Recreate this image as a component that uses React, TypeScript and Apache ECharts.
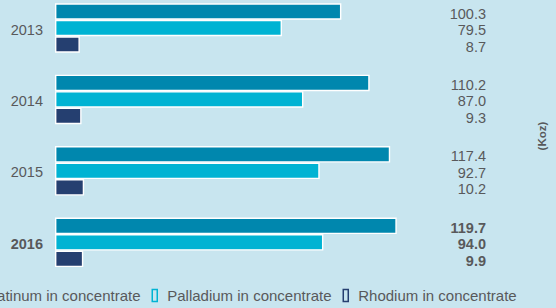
import React, { useEffect, useRef } from "react";
import * as echarts from "echarts";

const years = ["2013", "2014", "2015", "2016"];
const platinum = [100.3, 110.2, 117.4, 119.7];
const palladium = [79.5, 87.0, 92.7, 94.0];
const rhodium = [8.7, 9.3, 10.2, 9.9];
const seriesNames = ["Platinum in concentrate", "Palladium in concentrate", "Rhodium in concentrate"];
const colors = ["#0087ae", "#00b3d3", "#253f70"];
const unitLabel = "(Koz)";

const textColor = "#58595b";
const font = "'Liberation Sans', Arial, Helvetica, sans-serif";
const SHIFT = 8; // chart div starts 8px above the page

export default function App() {
  const ref = useRef<HTMLDivElement>(null);
  useEffect(() => {
    const chart = echarts.init(ref.current!, null, { renderer: "svg" });
    const values = [platinum, palladium, rhodium];
    const boldIdx = years.length - 1;
    const series = values.map((arr, si) => ({
      name: seriesNames[si],
      type: "bar",
      barWidth: 16.5,
      barGap: "0%",
      itemStyle: { color: colors[si], borderColor: "#ffffff", borderWidth: 1.4 },
      data: arr.map((v, i) => ({
        value: v,
        label: i === boldIdx ? { fontWeight: "bold" } : undefined,
      })),
      label: {
        show: true,
        color: textColor,
        fontSize: 14.5,
        fontFamily: font,
        formatter: (p: any) => Number(p.value).toFixed(1),
      },
      labelLayout: (p: any) => ({
        x: 486,
        y: p.rect.y + p.rect.height / 2 + 2,
        align: "right",
        verticalAlign: "middle",
      }),
    }));
    chart.setOption({
      animation: false,
      backgroundColor: "#c8e5ef",
      grid: { left: 55, top: 0.3, height: 285.7, width: 428.25 },
      xAxis: {
        type: "value",
        min: 0,
        max: 150,
        show: false,
      },
      yAxis: {
        type: "category",
        data: years,
        inverse: true,
        axisLine: { show: false },
        axisTick: { show: false },
        axisLabel: {
          margin: 12,
          color: textColor,
          fontSize: 14.5,
          fontFamily: font,
          formatter: (v: string, i: number) => (i === boldIdx ? `{b|${v}}` : `{n|${v}}`),
          rich: {
            n: { fontSize: 14.5, color: textColor, fontFamily: font, padding: [3, 0, 0, 0] },
            b: { fontWeight: "bold", fontSize: 14.5, color: textColor, fontFamily: font, padding: [3, 0, 0, 0] },
          },
        },
      },
      legend: {
        left: -32,
        top: 296,
        padding: 0,
        itemWidth: 15,
        itemHeight: 12,
        itemGap: 11,
        icon: "path://M0 0H5V12H0Z",
        textStyle: { color: textColor, fontSize: 15, fontFamily: font },
        data: seriesNames.map((n, i) => ({
          name: n,
          itemStyle: { color: "rgba(0,0,0,0)", borderColor: colors[i], borderWidth: 1.5 },
        })),
      },
      graphic: [
        {
          type: "text",
          x: 542,
          y: 136 + SHIFT,
          rotation: Math.PI / 2,
          style: {
            text: unitLabel,
            fill: textColor,
            fontSize: 11.5,
            fontWeight: "bold",
            fontFamily: font,
            align: "center",
            verticalAlign: "middle",
          },
        },
      ],
      series,
    });
    return () => chart.dispose();
  }, []);
  return (
    <div
      ref={ref}
      style={{ position: "fixed", left: 0, top: -SHIFT, width: 556, height: 308 + SHIFT }}
    />
  );
}
